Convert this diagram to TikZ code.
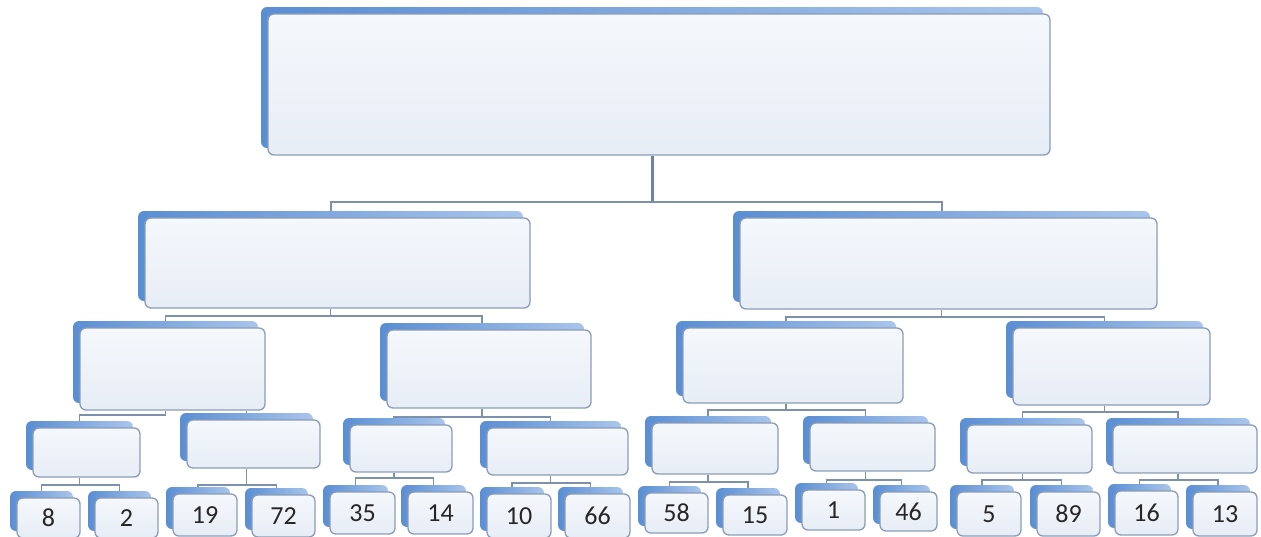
\documentclass[tikz,border=0pt]{standalone}
\usepackage{fontspec}
\setmainfont{Carlito}
\usetikzlibrary{shadows}
\definecolor{shA}{HTML}{5A8ED3}
\definecolor{shB}{HTML}{A8C5EC}
\definecolor{frA}{HTML}{F5F8FC}
\definecolor{frB}{HTML}{E7EDF6}
\definecolor{frame}{HTML}{8C9CB6}
\definecolor{lnk}{HTML}{7E91AC}
\definecolor{lnkd}{HTML}{6A84A8}
\pgfdeclarelayer{bg}\pgfsetlayers{bg,main}
\tikzset{
  box/.style={rectangle, rounded corners=6pt, draw=frame, line width=1.3pt,
    top color=frA, bottom color=frB, inner sep=0pt,
    font=\fontsize{26}{26}\selectfont, text=black!85,
    general shadow={shadow xshift=-7pt, shadow yshift=7pt, left color=shA, right color=shB}},
  conn/.style={draw=lnk, line width=1.5pt},
}
\newcommand\mkbox[6]{%
  \node[box, minimum width={(#4)-(#2)}, minimum height={(#5)-(#3)}] (#1) at ({((#2)+(#4))/2},{((#3)+(#5))/2}) {#6};
  \coordinate (#1t) at ([xshift=-7pt]#1.north);
  \coordinate (#1b) at ([xshift=-7pt]#1.south);}
\newcommand\linkbar[5][]{%
  \draw[conn,#1] (#2b) -- (#2b |- 0,#3);
  \draw[conn,#1] (#4t) -- (#4t |- 0,#3) -- (#5t |- 0,#3) -- (#5t);}
\begin{document}
\begin{tikzpicture}[x=1pt,y=-1pt]
\useasboundingbox (0,0) rectangle (1261,536);
% root
\mkbox{R}{268}{14}{1050}{155}{}
% level 2
\mkbox{P1}{145}{218}{530}{308}{}
\mkbox{P2}{740}{218}{1157}{309}{}
% level 3
\mkbox{Q1}{80}{328}{265}{410}{}
\mkbox{Q2}{387}{330}{591}{408}{}
\mkbox{Q3}{683}{328}{903}{403}{}
\mkbox{Q4}{1013}{328}{1210}{405}{}
% level 4
\mkbox{A}{33}{428}{140}{477}{}
\mkbox{B}{187}{420}{320}{468}{}
\mkbox{C}{350}{425}{452}{472}{}
\mkbox{D}{487}{428}{628}{475}{}
\mkbox{E}{652}{423}{778}{474}{}
\mkbox{F}{810}{423}{935}{471}{}
\mkbox{G}{967}{425}{1092}{473}{}
\mkbox{H}{1113}{425}{1257}{473}{}
% leaves
\mkbox{La}{17}{498}{80}{538}{8}
\mkbox{Lb}{95}{498}{158}{538}{2}
\mkbox{Lc}{173}{494}{237}{536}{19}
\mkbox{Ld}{252}{495}{315}{537}{72}
\mkbox{Le}{330}{492}{395}{534}{35}
\mkbox{Lf}{408}{492}{473}{534}{14}
\mkbox{Lg}{487}{494}{551}{538}{10}
\mkbox{Lh}{565}{494}{630}{538}{66}
\mkbox{Li}{645}{493}{708}{533}{58}
\mkbox{Lj}{723}{495}{787}{535}{15}
\mkbox{Lk}{802}{490}{865}{530}{1}
\mkbox{Ll}{880}{492}{937}{531}{46}
\mkbox{Lm}{957}{492}{1021}{536}{5}
\mkbox{Ln}{1037}{492}{1100}{536}{89}
\mkbox{Lo}{1115}{491}{1178}{535}{16}
\mkbox{Lp}{1193}{492}{1257}{536}{13}
\begin{pgfonlayer}{bg}
\draw[conn, draw=lnkd, line width=3pt] (Rb) -- (Rb |- 0,202);
\draw[conn, line width=2pt] (P1t) -- (P1t |- 0,202) -- (P2t |- 0,202) -- (P2t);
\linkbar[line width=1.8pt]{P1}{316}{Q1}{Q2}
\linkbar[line width=1.8pt]{P2}{317}{Q3}{Q4}
\draw[conn] (Q1b) -- (Q1b |- 0,415) -- (At |- 0,415) -- (At);
\draw[conn] (Bt |- Q1.south) -- (Bt);
\linkbar{Q2}{417}{C}{D}
\linkbar{Q3}{410}{E}{F}
\linkbar{Q4}{412}{G}{H}
\linkbar{A}{485}{La}{Lb}
\linkbar{B}{485}{Lc}{Ld}
\linkbar{C}{478}{Le}{Lf}
\linkbar{D}{483}{Lg}{Lh}
\linkbar{E}{482}{Li}{Lj}
\linkbar{F}{480}{Lk}{Ll}
\linkbar{G}{480}{Lm}{Ln}
\linkbar{H}{480}{Lo}{Lp}
\end{pgfonlayer}
\end{tikzpicture}
\end{document}
